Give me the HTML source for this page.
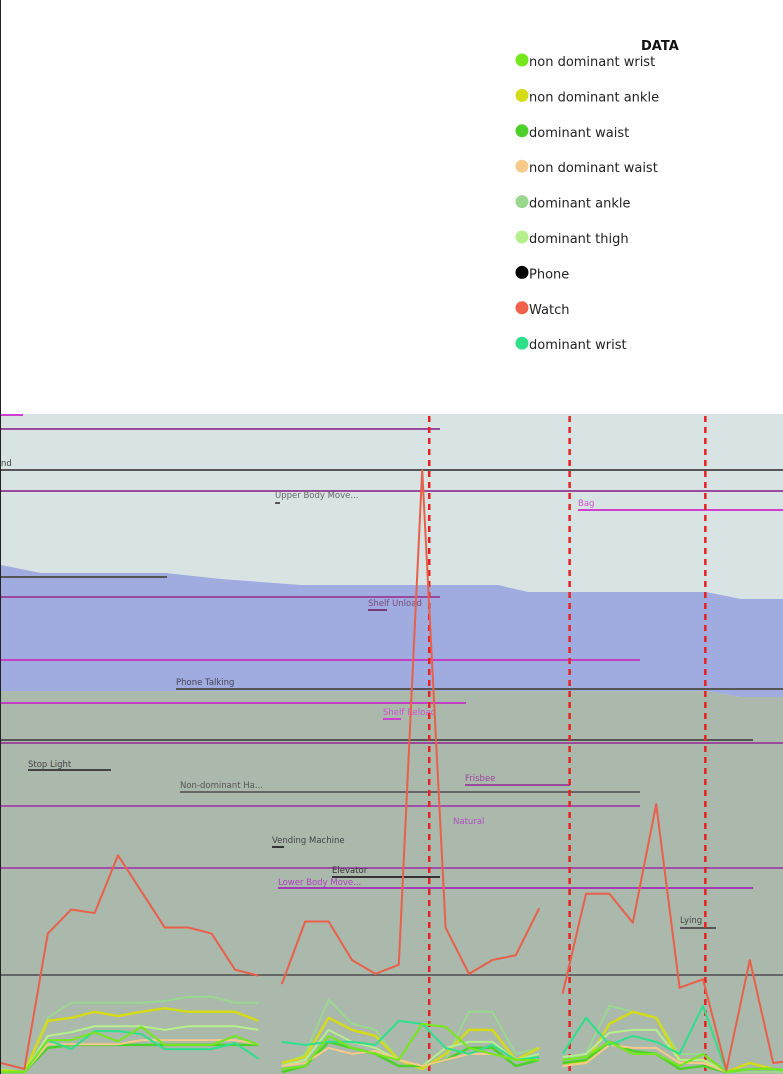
<!DOCTYPE html>
<html><head><meta charset="utf-8"><style>
body{margin:0;background:#fff;font-family:"DejaVu Sans","Liberation Sans",sans-serif}
#wrap{position:relative;width:783px;height:1074px;overflow:hidden;border-left:1px solid #222;box-sizing:border-box}
svg{position:absolute;left:0;top:0}
</style></head><body>
<div id="wrap">
<svg id="chart" width="783" height="1074"></svg>
</div>
<script>
const seriesNames=["non dominant wrist","non dominant ankle","dominant waist","non dominant waist","dominant ankle","dominant thigh","Phone","Watch","dominant wrist"];
const seriesColors=["#74e81c","#d4dc18","#4ed02a","#f7c98a","#9bd88f","#b6ef8e","#000000","#f0604a","#2ee08a"];
const segStarts=[0,12,24];
const watch=[[1.5,0.5,23,27,26.4,36,30,24,24,23,17,16],[14.6,25,25,18.6,16.3,17.8,100,24,16.3,18.6,19.4,27.2],[13,29.6,29.6,24.8,44.5,14,15.4,0.3,18.6,1.5,2]];
const dAnkle=[[0.5,0,9,11.5,11.5,11.5,11.5,11.8,12.5,12.5,11.5,11.5],[1,3,12,8,7,2,1,2,10,10,3,4],[2,3,11,10,9,3,3,0,0,0,0]];
const ndAnkle=[[0.3,0,8.5,9,10,9.3,10,10.6,10,10,10,8.5],[1.5,2.5,9,7,6,2,0.5,3,7,7,2,4],[1.5,1.5,8,10,9,2,2,0,1.5,0.5,0]];
const dThigh=[[0,0,6,6.6,7.6,7.6,7.6,7,7.6,7.6,7.6,7],[1,2,7,5,4,2,1,4,5,5,2,3],[2.5,3,6.5,7,7,2,2,0,0.5,0.5,0]];
const dWrist=[[0,0,5.3,3.8,6.8,6.8,6.3,3.8,3.8,3.8,4.8,2.2],[5,4.5,5,5,4.5,8.5,8,4,3,4.5,2,2.5],[3,9,4.5,6,5,3,11,0,0.5,0.5,0]];
const ndWrist=[[0,0,5.3,5.3,6.6,5.1,7.5,4.5,4.5,4.5,6,4.5],[0.5,1,6,4,3,2,8,7.5,4,3,2,2],[2,2.5,5,3,3,1,3,0,0.5,0.5,0]];
const dWaist=[[0,0,4,4.5,4.5,4.5,4.5,4.5,4.5,4.5,4.5,4.5],[0,1,5,4,3,1,1,2,4,4,1,2],[1.5,2,5,3.5,3,0.5,1,0,0.5,0.5,0]];
const ndWaist=[[0,0,4.6,4.6,4.6,4.6,5.3,5.3,5.3,5.3,5.3,4.6],[1,1.5,4,3,3.5,2,1,2,3,3,2,2],[1,1.5,4.5,4,4,1.5,1.5,0,0.5,0.5,0]];
const dividerIdx=[18.3,24.3,30.1];
const xScale=i=>i*23.4;
const yScale=v=>1072-v*6.02;
const NS="http://www.w3.org/2000/svg";
const svg=document.getElementById('chart');
function mk(t,a,parent){const e=document.createElementNS(NS,t);for(const k in a)e.setAttribute(k,a[k]);(parent||svg).appendChild(e);return e;}
let bg=mk('rect',{x:0,y:414,width:783,height:660,fill:'#d8e4e3'});


let band=mk('polygon',{points:'0,565 40,573 165,573 220,579 300,585 497,585 527,592 705,592 740,599 783,599 783,697 740,697 705,691 0,691',fill:'#a0acdf'});


let low=mk('polygon',{points:'0,691 705,691 740,697 783,697 783,1074 0,1074',fill:'#abb8ac'});


const hl=[[415,0,22,'#d040d0'],[429,0,439,'#9a4a9a'],[470,0,783,'#555'],[491,0,783,'#9a4a9a'],[510,577,783,'#d040d0'],[577,0,166,'#555'],[597,0,439,'#9a4a9a'],[660,0,639,'#c040c0'],[689,175,783,'#555'],[703,0,465,'#c040c0'],[740,0,752,'#555'],[743,0,783,'#9a4a9a'],[770,27,110,'#444'],[785,464,569,'#9a4a9a'],[792,179,639,'#666'],[806,0,639,'#a050a8'],[847,271,283,'#333'],[868,0,783,'#a050a8'],[877,331,439,'#333'],[888,277,752,'#a040b0'],[928,679,715,'#555'],[975,0,783,'#666'],[503,274,279,'#555'],[610,367,386,'#7a3a7a'],[719,382,400,'#d040d0']];
hl.forEach(h=>{const l=mk('line',{x1:h[1],x2:h[2],y1:h[0],y2:h[0],stroke:h[3],'stroke-width':2});

});
const labels=[["nd",0,466,'#444'],["Upper Body Move...",274,498,'#666'],["Bag",577,506,'#d050d0'],["Shelf Unload",367,606,'#7a4a7a'],["Phone Talking",175,685,'#445'],["Shelf Reload",382,715,'#d050d0'],["Stop Light",27,767,'#444'],["Frisbee",464,781,'#9a4a9a'],["Non-dominant Ha...",179,788,'#555'],["Natural",452,824,'#b050c0'],["Vending Machine",271,843,'#444'],["Elevator",331,873,'#333'],["Lower Body Move...",277,885,'#b040c0'],["Lying",679,923,'#444']];
labels.forEach(t=>{const e=mk('text',{x:t[1],y:t[2],fill:t[3],'font-size':8.5});e.textContent=t[0];

});
dividerIdx.forEach(d=>{const l=mk('line',{x1:xScale(d),x2:xScale(d),y1:416,y2:1074,stroke:'#e82020','stroke-width':2.5,'stroke-dasharray':'6,5'});

});
function drawSeries(arr,color,w,name){arr.forEach((seg,s)=>{const pts=seg.map((v,j)=>xScale(segStarts[s]+j)+','+yScale(v)).join(' ');
const p=mk('polyline',{points:pts,fill:'none',stroke:color,'stroke-width':w,'stroke-linejoin':'round'});

});}
drawSeries(dAnkle,'#9bd88f',2,'dominant-ankle-line');
drawSeries(ndAnkle,'#d4dc18',2.5,'non-dominant-ankle-line');
drawSeries(dThigh,'#b6ef8e',2,'dominant-thigh-line');
drawSeries(dWaist,'#4ed02a',2.5,'dominant-waist-line');
drawSeries(ndWaist,'#f7c98a',2,'non-dominant-waist-line');
drawSeries(dWrist,'#2ee08a',2,'dominant-wrist-line');
drawSeries(ndWrist,'#74e81c',2,'non-dominant-wrist-line');
drawSeries(watch,'#e8604a',2,'watch-line');
const lt=mk('text',{x:640,y:50,'font-size':13,'font-weight':'bold',fill:'#111'});lt.textContent='DATA';


seriesNames.forEach((n,i)=>{const y=60+i*35.4;
const c=mk('circle',{cx:521,cy:y,r:6.5,fill:seriesColors[i]});


const t=mk('text',{x:528,y:y+6,'font-size':13,fill:'#222'});t.textContent=n;

});
</script>
</body></html>
